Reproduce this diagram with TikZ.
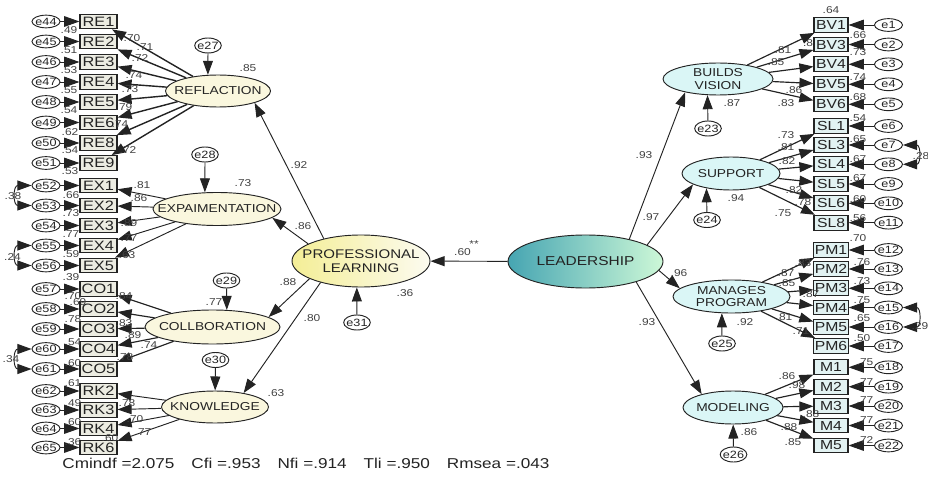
\documentclass[tikz,border=0pt]{standalone}
\usepackage{fontspec}
\setmainfont{Liberation Sans}[FakeStretch=1.2]
\usetikzlibrary{arrows.meta,shapes.geometric}
\definecolor{latfillL}{RGB}{250,247,222}
\definecolor{latfillR}{RGB}{218,246,246}
\definecolor{boxfillL}{RGB}{236,236,226}
\definecolor{boxfillR}{RGB}{226,242,242}
\definecolor{profleft}{RGB}{244,238,150}
\definecolor{profright}{RGB}{252,251,240}
\definecolor{leadleft}{RGB}{70,165,178}
\definecolor{leadright}{RGB}{205,248,215}
\definecolor{inkgray}{RGB}{35,35,35}
\definecolor{numgray}{RGB}{65,65,65}

\begin{document}
\begin{tikzpicture}[x=0.03cm, y=-0.03cm, line width=0.8pt, color=inkgray,
    >={Triangle[length=12pt,width=8.5pt]},
    obs/.style={draw, rectangle, line width=0.9pt, inner sep=0.8pt, minimum height=0.44cm},
    obsL/.style={obs, fill=boxfillL, minimum width=1.11cm, font=\fontsize{11.6}{12}\selectfont},
    obsR/.style={obs, fill=boxfillR, minimum width=1.02cm, font=\fontsize{11.2}{12}\selectfont},
    err/.style={draw, ellipse, fill=white, inner sep=0, minimum width=0.84cm, minimum height=0.38cm,
        label={[font=\fontsize{9}{9}\selectfont, inner sep=0]center:#1}},
    dist/.style={err=#1, minimum width=0.8cm, minimum height=0.45cm},
    lat/.style={draw, ellipse, inner sep=0,
        label={[font=\fontsize{9.8}{10.8}\selectfont, align=center, inner sep=0]center:#1}},
    latL/.style={lat=#1, fill=latfillL},
    latR/.style={lat=#1, fill=latfillR},
    num/.style={font=\fontsize{8.5}{8.5}\selectfont, text=numgray, inner sep=0},
    bigtip/.style={-{Triangle[length=13pt,width=9pt]}}
]
    \useasboundingbox (0,0) rectangle (928,483);

    \node[latL=REFLACTION, minimum width=3.15cm, minimum height=0.96cm] (refl) at (218,91) {};
    \node[latL=EXPAIMENTATION, minimum width=3.84cm, minimum height=0.99cm] (expa) at (217,209) {};
    \node[latL=COLLBORATION, minimum width=4.05cm, minimum height=1.02cm] (coll) at (212.5,327) {};
    \node[latL=KNOWLEDGE, minimum width=3.21cm, minimum height=0.96cm] (know) at (215,407) {};
    \node[draw, ellipse, inner sep=0, minimum width=4.14cm, minimum height=1.56cm, left color=profleft, right color=profright,
        label={[font=\fontsize{10.7}{12}\selectfont, align=center, inner sep=0]center:PROFESSIONAL\\LEARNING}] (prof) at (361,261) {};
    \node[draw, ellipse, inner sep=0, minimum width=4.65cm, minimum height=1.59cm, left color=leadleft, right color=leadright,
        label={[font=\fontsize{11}{12}\selectfont, inner sep=0]center:LEADERSHIP}] (lead) at (585.5,261.5) {};
    \node[latR={BUILDS\\VISION}, minimum width=3.30cm, minimum height=0.96cm] (bv) at (718,79) {};
    \node[latR=SUPPORT, minimum width=2.94cm, minimum height=0.99cm] (sup) at (731,173.5) {};
    \node[latR={MANAGES\\PROGRAM}, minimum width=3.51cm, minimum height=0.99cm] (mp) at (731.5,296.5) {};
    \node[latR=MODELING, minimum width=3.00cm, minimum height=0.99cm] (mod) at (733,407.5) {};

    \node[dist=e27] (e27) at (208,45.5) {};
    \node[dist=e28] (e28) at (205,154.5) {};
    \node[dist=e29] (e29) at (226.5,280.5) {};
    \node[dist=e30] (e30) at (215.5,360) {};
    \node[dist=e31] (e31) at (357,322.5) {};
    \node[dist=e23] (e23) at (708,128.5) {};
    \node[dist=e24] (e24) at (707,220) {};
    \node[dist=e25] (e25) at (722,343.5) {};
    \node[dist=e26] (e26) at (733.5,454.5) {};

    \foreach \v/\e/\y in {RE1/44/21.5, RE2/45/41.5, RE3/46/62, RE4/47/82, RE5/48/102, RE6/49/122.5, RE8/50/143, RE9/51/163,
        EX1/52/185.5, EX2/53/205.5, EX3/54/225.5, EX4/55/245.5, EX5/56/265.5,
        CO1/57/289, CO2/58/309, CO3/59/329, CO4/60/349, CO5/61/369,
        RK2/62/391, RK3/63/410, RK4/64/428.5, RK6/65/447.5}{
        \node[obsL] (\v) at (98.5,\y) {\v};
        \node[err=e\e] (e\e) at (46,\y) {};
        \draw[bigtip] (e\e) -- (\v);
    }
    \foreach \v/\e/\y in {BV1/1/25, BV3/2/44.5, BV4/3/64.3, BV5/4/84.3, BV6/5/104.3,
        SL1/6/126, SL3/7/145, SL4/8/164.3, SL5/9/184, SL6/10/203.3, SL8/11/222.7,
        PM1/12/250, PM2/13/269, PM3/14/288.3, PM4/15/307.5, PM5/16/327, PM6/17/346,
        M1/18/367.3, M2/19/386.7, M3/20/406, M4/21/425.5, M5/22/445.5}{
        \node[obsR] (\v) at (831,\y) {\v};
        \node[err=e\e] (e\e) at (888.5,\y) {};
        \draw[bigtip] (e\e) -- (\v);
    }

    \foreach \v in {RE1,RE2,RE3,RE4,RE5,RE6,RE8,RE9} \draw[->, line width=1.2pt] (refl) -- (\v);
    \foreach \v in {EX1,EX2,EX3,EX4,EX5} \draw[->] (expa) -- (\v);
    \foreach \v in {CO1,CO2,CO3,CO4,CO5} \draw[->, line width=1pt] (coll) -- (\v);
    \foreach \v in {RK2,RK3,RK4,RK6} \draw[->] (know) -- (\v);
    \foreach \v in {BV1,BV3,BV4,BV5,BV6} \draw[->, line width=1pt] (bv) -- (\v);
    \foreach \v in {SL1,SL3,SL4,SL5,SL6,SL8} \draw[->, line width=1pt] (sup) -- (\v);
    \foreach \v in {PM1,PM2,PM3,PM4,PM5,PM6} \draw[->, line width=1pt] (mp) -- (\v);
    \foreach \v in {M1,M2,M3,M4,M5} \draw[->, line width=1pt] (mod) -- (\v);

    \draw[->] (prof.149) -- (refl.342);
    \draw[->] (prof.162) -- (expa.351);
    \draw[->] (prof.199) -- (coll.10);
    \draw[->] (prof.208) -- (know.26);
    \draw[->] (lead) -- (prof);
    \draw[->] (lead.27) -- (bv.202);
    \draw[->] (lead.15) -- (sup.196);
    \draw[->] (lead.353) -- (mp.171);
    \draw[->] (lead.338) -- (mod.157);

    \draw[->] (e27) -- (refl.122);
    \draw[->] (e28) -- (expa.126);
    \draw[->] (e29) -- (coll.50);
    \draw[->] (e30) -- (know);
    \draw[->] (e31) -- (prof.261);
    \draw[->] (e23) -- (bv.237);
    \draw[->] (e24) -- (sup.211);
    \draw[->] (e25) -- (mp.240);
    \draw[->] (e26) -- (mod);

    \draw[<->] (e52.west) to[out=180, in=180, looseness=2.4] (e53.west);
    \draw[<->] (e55.west) to[out=180, in=180, looseness=2.4] (e56.west);
    \draw[<->] (e60.west) to[out=180, in=180, looseness=2.4] (e61.west);
    \draw[<->] (e7.east) to[out=0, in=0, looseness=2.4] (e8.east);
    \draw[<->] (e15.east) to[out=0, in=0, looseness=2.4] (e16.east);

    \foreach \x/\y/\t [count=\i] in {69/30/.49, 69/50/.51, 69/70/.53, 69/90/.55, 69/110/.54, 70/132.5/.62, 70/150/.54, 70/171.5/.53,
        71/195/.66, 71/213.3/.73, 71/234/.77, 71/254/.59, 71/277.3/.39,
        73/296/.70, 78/302.5/.69, 73/319/.78, 73/341.7/.54, 73/362.7/.60,
        73/383.3/.61, 73/402.7/.49, 73/421.7/.60, 73/441.7/.36,
        132/38.3/.70, 145/46.7/.71, 140/58.3/.72, 134/75/.74, 130/89.3/.73, 124/106.7/.79, 120/124/.74, 128/150/.72,
        142/185/.81, 139/198.3/.86, 129/222.7/.89, 129/238.3/.77, 127/255/.63,
        124/296/.84, 124/323.3/.83, 133/335/.89, 149/345/.74, 125/356.7/.78,
        127/402.7/.78, 135/419.3/.70, 143/431.7/.77, 110/438.3/.60,
        13/196/.38, 12.5/257.3/.24, 11/359/.34}
        \node[num] (l\i) at (\x,\y) {\t};

    \foreach \x/\y/\t [count=\i] in {248/68.3/.85, 243/182.7/.73, 214/301.7/.77, 276/392.7/.63,
        299/165/.92, 303/226/.86, 288/281.7/.88, 312/318.3/.80, 405/292.7/.36, 462.5/251.7/.60,
        644/155/.93, 651/216.7/.97, 679/273.3/.96, 647/321.7/.93,
        732/103.3/.87, 736/198.3/.94, 745/321.7/.92, 749/431.7/.86}
        \node[num] (m\i) at (\x,\y) {\t};
    \node[num] (sig) at (474,244) {**};

    \foreach \x/\y/\t [count=\i] in {831/10/.64, 858/35/.66, 858/51.7/.73, 858/76.7/.74, 858/96.7/.68, 858/118.3/.54,
        858/139.3/.65, 858/159.3/.67, 858/178.3/.67, 858/199/.60, 858/218.3/.56, 858/238.3/.70,
        862/261.7/.76, 862/280.7/.73, 862/300/.75, 862/318.3/.65, 862/338.3/.50,
        865/361.7/.75, 865/381.7/.77, 865/400/.77, 865/420/.77, 865/440/.72,
        783/50/.81, 808/43.3/.8, 776/61.7/.85, 794/90/.86, 786/103.3/.83,
        786/135/.73, 786/146.7/.81, 787/160.7/.82, 794/190/.82, 803/201.7/.78, 783/212.7/.75,
        803/263.3/.83, 786/273.3/.87, 787/283.3/.85, 811/294/.87, 784/317.3/.81, 801/330.7/.71,
        787/376/.86, 797/385/.98, 811/414/.88, 789/426.7/.88, 793/441.7/.85,
        921/156/.28, 920/326/.29}
        \node[num] (r\i) at (\x,\y) {\t};

    \node[anchor=base west, inner sep=0, font=\fontsize{12.2}{13}\selectfont] (fit) at (62,468)
        {Cmindf =2.075\hspace{14.5pt}Cfi =.953\hspace{14.5pt}Nfi =.914\hspace{14.5pt}Tli =.950\hspace{14.5pt}Rmsea =.043};
\end{tikzpicture}
\end{document}
